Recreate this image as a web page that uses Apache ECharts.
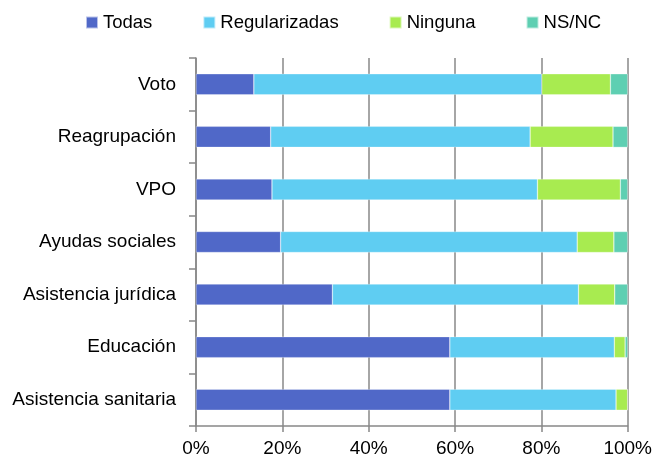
<!DOCTYPE html>
<html>
<head>
<meta charset="utf-8">
<script src="https://cdn.jsdelivr.net/npm/echarts@6/dist/echarts.min.js"></script>
<style>
  html, body { margin: 0; padding: 0; background: #fff; }
  #chart { width: 655px; height: 461px; }
</style>
</head>
<body>
<div id="chart"></div>
<script>
// categories, top to bottom
const categories = ['Voto', 'Reagrupación', 'VPO', 'Ayudas sociales', 'Asistencia jurídica', 'Educación', 'Asistencia sanitaria']

const todas = [13.4, 17.3, 17.6, 19.6, 31.6, 58.8, 58.8]
const regularizadas = [66.7, 60.1, 61.5, 68.7, 57.0, 38.1, 38.5]
const ninguna = [15.9, 19.2, 19.2, 8.5, 8.4, 2.5, 2.7]
const nsnc = [4.0, 3.4, 1.7, 3.2, 3.0, 0.6, 0]

const xTicks = [0, 20, 40, 60, 80, 100]

const font = 'Liberation Sans'
const chart = echarts.init(document.getElementById('chart'))

const makeSeries = (name, data, color) => ({
  name,
  type: 'bar',
  stack: 'total',
  data,
  barCategoryGap: '60%',
  itemStyle: { color, borderColor: 'rgba(255,255,255,0.6)', borderWidth: 0.5 },
  emphasis: { disabled: true }
})

chart.setOption({
  animation: false,
  textStyle: { fontFamily: font },
  legend: {
    top: 13,
    left: 85,
    padding: 0,
    itemWidth: 12,
    itemHeight: 12,
    itemGap: 50,
    icon: 'rect',
    textStyle: { fontSize: 18.5, color: '#000', fontFamily: font },
    data: ['Todas', 'Regularizadas', 'Ninguna', 'NS/NC']
  },
  grid: { left: 196, right: 25, top: 58, bottom: 35 },
  xAxis: {
    type: 'value',
    min: xTicks[0],
    max: xTicks[xTicks.length - 1],
    interval: 20,
    axisLine: { show: true, lineStyle: { color: '#888', width: 1.5 } },
    axisTick: { show: true, length: 6, lineStyle: { color: '#888', width: 1.5 } },
    splitLine: { show: true, lineStyle: { color: '#888', width: 1.5 } },
    axisLabel: { formatter: '{value}%', fontSize: 19, color: '#000', margin: 13 }
  },
  yAxis: {
    type: 'category',
    inverse: true,
    data: categories,
    axisLine: { show: true, lineStyle: { color: '#888', width: 1.5 } },
    axisTick: { show: true, length: 7, lineStyle: { color: '#888', width: 1.5 } },
    axisLabel: { fontSize: 19, color: '#000', margin: 20 }
  },
  series: [
    makeSeries('Todas', todas, '#5068C8'),
    makeSeries('Regularizadas', regularizadas, '#5FCDF2'),
    makeSeries('Ninguna', ninguna, '#A8EB50'),
    makeSeries('NS/NC', nsnc, '#5ECFB2')
  ]
})
</script>
</body>
</html>
